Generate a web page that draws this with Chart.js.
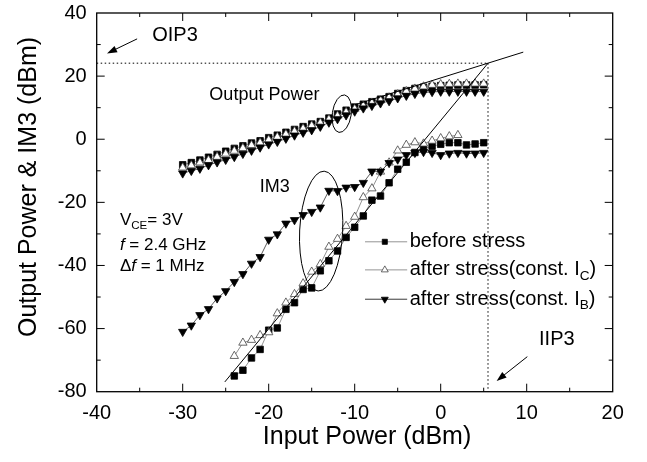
<!DOCTYPE html>
<html>
<head>
<meta charset="utf-8">
<script src="https://cdn.jsdelivr.net/npm/chart.js@4.4.0/dist/chart.umd.min.js"></script>
<style>
  html, body { margin: 0; padding: 0; background: #fff; }
  canvas { display: block; }
</style>
</head>
<body>
<canvas id="chart" width="647" height="462"></canvas>
<script>
const FONT = '"Liberation Sans", Arial, sans-serif';

// input power (dBm) for each series
const X_OUT = [-30,-29,-28,-27,-26,-25,-24,-23,-22,-21,-20,-19,-18,-17,-16,-15,-14,-13,-12,-11,-10,-9,-8,-7,-6,-5,-4,-3,-2,-1,0,1,2,3,4,5];
const X_IM3_BEFORE = [-24,-23,-22,-21,-20,-19,-18,-17,-16,-15,-14,-13,-12,-11,-10,-9,-8,-7,-6,-5,-4,-3,-2,-1,0,1,2,3,4,5];
const X_IM3_IC = [-24,-23,-22,-21,-20,-19,-18,-17,-16,-15,-14,-13,-12,-11,-10,-9,-8,-7,-6,-5,-4,-3,-2,-1,0,1,2];
const X_IM3_IB = [-30,-29,-28,-27,-26,-25,-24,-23,-22,-21,-20,-19,-18,-17,-16,-15,-14,-13,-12,-11,-10,-9,-8,-7,-6,-5,-4,-3,-2,-1,0,1,2,3,4,5];

// output power (dBm)
const OUT_BEFORE = [-8.1,-7.4,-6.6,-5.7,-4.8,-3.8,-2.9,-2.1,-1.2,-0.5,0.5,1.3,2.2,3.1,4.0,4.8,5.6,6.7,8.0,9.2,10.2,11.1,11.9,12.7,13.5,14.5,15.4,16.1,16.5,16.8,17.0,17.1,17.2,17.2,17.2,17.3];
const OUT_IC = [-9.0,-8.3,-7.4,-6.6,-5.6,-4.6,-3.7,-2.8,-1.9,-1.1,-0.2,0.7,1.6,2.5,3.4,4.3,5.2,6.3,7.4,8.6,9.6,10.6,11.5,12.3,13.2,14.2,15.2,16.0,16.7,17.2,17.4,17.5,17.6,17.6,17.6,17.6];
const OUT_IB = [-10.8,-10.0,-9.3,-8.2,-7.3,-6.5,-5.6,-4.6,-3.6,-2.6,-1.6,-0.8,0.2,1.2,2.1,2.9,4.0,5.3,6.4,7.6,8.8,9.8,10.6,11.4,12.1,13.0,13.8,14.4,14.8,15.0,15.1,15.1,15.1,15.1,15.1,15.1];

// IM3 (dBm)
const IM3_BEFORE = [-75.0,-73.2,-69.3,-66.6,-60.5,-59.8,-53.9,-51.8,-47.6,-47.1,-41.7,-38.5,-35.4,-31.1,-27.9,-24.3,-19.3,-18.0,-13.8,-9.5,-7.3,-4.2,-3.0,-2.2,-1.6,-1.1,-1.1,-1.8,-1.5,-1.1];
const IM3_IC = [-68.7,-64.5,-63.6,-62.1,-61.2,-55.2,-51.8,-49.1,-45.7,-42.0,-39.6,-34.1,-31.6,-27.5,-24.6,-18.4,-15.6,-10.3,-7.4,-3.6,-1.8,-1.0,-1.4,-0.5,0.3,0.9,1.3];
const IM3_IB = [-61.0,-59.0,-55.7,-53.8,-50.4,-48.1,-45.2,-42.7,-39.4,-37.3,-31.8,-30.1,-26.7,-25.6,-24.0,-23.0,-21.6,-16.3,-16.4,-15.3,-15.1,-13.8,-10.2,-10.2,-7.5,-6.4,-5.0,-4.3,-4.0,-4.3,-5.0,-4.5,-4.3,-4.5,-4.5,-4.3];

// extrapolation lines and the intercept point
const FIT_OUT_X = [-10, 9.6];
const FIT_OUT_Y = [10.9, 27.6];
const FIT_IM3_X = [-25.1, 5.5];
const FIT_IM3_Y = [-76.9, 24.1];
const IP3 = { iip3: 5.5, oip3: 24.1 };

// axis ticks
const X_MAJOR = [-40, -30, -20, -10, 0, 10, 20];
const X_MINOR = [-35, -25, -15, -5, 5, 15];
const Y_MAJOR = [-80, -60, -40, -20, 0, 20, 40];
const Y_MINOR = [-70, -50, -30, -10, 10, 30];

const LEGEND = [
  { label: 'before stress', sub: null, style: 'rect', fill: '#000', line: '#888' },
  { label: 'after stress(const. I', sub: 'C', style: 'triangle', fill: '#fff', line: '#888' },
  { label: 'after stress(const. I', sub: 'B', style: 'triangle', rot: 180, fill: '#000', line: '#222' },
];

const pts = (xs, ys) => xs.map((x, i) => ({ x, y: ys[i] }));

function series(xs, ys, style, fill, rot, line) {
  return {
    data: pts(xs, ys), borderColor: line, borderWidth: 0.8, tension: 0,
    pointStyle: style, pointRotation: rot || 0,
    pointRadius: style === 'rect' ? 4.6 : 4.8, pointHoverRadius: style === 'rect' ? 4.6 : 4.8,
    pointBackgroundColor: fill, pointBorderColor: fill === '#fff' ? '#444' : '#000', pointBorderWidth: 0.8,
  };
}
function plain(xs, ys, dash) {
  return { data: pts(xs, ys), borderColor: '#000', borderWidth: 1, borderDash: dash || [], pointRadius: 0, tension: 0 };
}

function px(c, x, y) { return [c.scales.x.getPixelForValue(x), c.scales.y.getPixelForValue(y)]; }

function subText(ctx, x, y, parts, size) {
  // parts: [text, kind] kind = '' | 'sub' | 'it'
  let cx = x;
  for (const [t, kind] of parts) {
    const s = kind === 'sub' ? size * 0.68 : size;
    ctx.font = `${kind === 'it' ? 'italic ' : ''}${s}px ${FONT}`;
    ctx.fillText(t, cx, kind === 'sub' ? y + size * 0.32 : y);
    cx += ctx.measureText(t).width;
  }
}

function arrow(ctx, x0, y0, x1, y1) {
  const a = Math.atan2(y1 - y0, x1 - x0), L = 10, W = 3.5;
  ctx.beginPath(); ctx.moveTo(x0, y0); ctx.lineTo(x1 - Math.cos(a) * L * 0.6, y1 - Math.sin(a) * L * 0.6); ctx.stroke();
  ctx.beginPath();
  ctx.moveTo(x1, y1);
  ctx.lineTo(x1 - Math.cos(a) * L - Math.sin(a) * W, y1 - Math.sin(a) * L + Math.cos(a) * W);
  ctx.lineTo(x1 - Math.cos(a) * L + Math.sin(a) * W, y1 - Math.sin(a) * L - Math.cos(a) * W);
  ctx.closePath(); ctx.fill();
}

const frame = {
  id: 'frame',
  afterDraw(c) {
    const { ctx, chartArea: a } = c;
    ctx.save();
    ctx.strokeStyle = '#000'; ctx.fillStyle = '#000'; ctx.lineWidth = 1.3;
    ctx.strokeRect(a.left, a.top, a.right - a.left, a.bottom - a.top);
    ctx.lineWidth = 1;
    const tick = (vals, len) => {
      for (const v of vals) {
        const x = c.scales.x.getPixelForValue(v);
        if (x > a.left + 1 && x < a.right - 1) {
          ctx.beginPath(); ctx.moveTo(x, a.bottom); ctx.lineTo(x, a.bottom - len);
          ctx.moveTo(x, a.top); ctx.lineTo(x, a.top + len); ctx.stroke();
        }
      }
    };
    const ytick = (vals, len) => {
      for (const v of vals) {
        const y = c.scales.y.getPixelForValue(v);
        if (y > a.top + 1 && y < a.bottom - 1) {
          ctx.beginPath(); ctx.moveTo(a.left, y); ctx.lineTo(a.left + len, y);
          ctx.moveTo(a.right, y); ctx.lineTo(a.right - len, y); ctx.stroke();
        }
      }
    };
    tick(X_MAJOR, 8); tick(X_MINOR, 4); ytick(Y_MAJOR, 8); ytick(Y_MINOR, 4);

    // axis titles
    ctx.font = `25px ${FONT}`; ctx.textAlign = 'center'; ctx.textBaseline = 'middle';
    ctx.fillText('Input Power (dBm)', 367, 437);
    ctx.save(); ctx.translate(29, 187); ctx.rotate(-Math.PI / 2);
    ctx.fillText('Output Power & IM3 (dBm)', 0, 0); ctx.restore();

    // labels on the plot
    ctx.font = `20px ${FONT}`;
    let p = px(c, -30.9, 33.0); ctx.fillText('OIP3', p[0], p[1]);
    p = px(c, 13.5, -63.3); ctx.fillText('IIP3', p[0], p[1]);
    ctx.font = `18px ${FONT}`;
    p = px(c, -20.5, 13.9); ctx.fillText('Output Power', p[0], p[1]);
    p = px(c, -19.3, -15.1); ctx.fillText('IM3', p[0], p[1]);

    ctx.textAlign = 'left';
    p = px(c, -37.3, -25.6); subText(ctx, p[0], p[1], [['V', ''], ['CE', 'sub'], ['= 3V', '']], 17);
    p = px(c, -37.3, -33.7); subText(ctx, p[0], p[1], [['f', 'it'], [' = 2.4 GHz', '']], 17);
    p = px(c, -37.3, -40.2); subText(ctx, p[0], p[1], [['\u0394', ''], ['f', 'it'], [' = 1 MHz', '']], 17);

    // arrows
    ctx.lineWidth = 1;
    let q0 = px(c, -35.3, 31.8), q1 = px(c, -38.8, 27.2); arrow(ctx, q0[0], q0[1], q1[0], q1[1]);
    q0 = px(c, 10.07, -68.9); q1 = px(c, 6.5, -76.6); arrow(ctx, q0[0], q0[1], q1[0], q1[1]);

    // ellipses
    const ell = (x, y, rx, ry, rot) => {
      const e = px(c, x, y);
      const w = Math.abs(c.scales.x.getPixelForValue(x + rx) - e[0]);
      const h = Math.abs(c.scales.y.getPixelForValue(y + ry) - e[1]);
      ctx.beginPath(); ctx.ellipse(e[0], e[1], w, h, rot, 0, Math.PI * 2); ctx.stroke();
    };
    ell(-11.5, 8.1, 1.1, 6.0, 0.15);
    ell(-13.9, -29.1, 2.5, 19.0, 0.05);

    // legend
    LEGEND.forEach((it, i) => {
      const ly = [-32.5, -41.4, -50.7][i];
      const a0 = px(c, -8.8, ly), a1 = px(c, -3.9, ly), m = px(c, -6.5, ly);
      ctx.strokeStyle = it.line; ctx.lineWidth = 0.9;
      ctx.beginPath(); ctx.moveTo(a0[0], a0[1]); ctx.lineTo(a1[0], a1[1]); ctx.stroke();
      ctx.fillStyle = it.fill; ctx.strokeStyle = it.fill === '#fff' ? '#444' : '#000'; ctx.lineWidth = 0.8;
      Chart.helpers.drawPoint(ctx, { pointStyle: it.style, rotation: it.rot || 0, radius: it.style === 'rect' ? 3.6 : 4, borderWidth: 0.8 }, m[0], m[1]);
      ctx.fillStyle = '#000'; ctx.textBaseline = 'middle';
      const t = px(c, -3.6, ly);
      const parts = [[it.label, '']];
      if (it.sub) { parts.push([it.sub, 'sub']); parts.push([')', '']); }
      subText(ctx, t[0], t[1], parts, 20);
    });
    ctx.restore();
  }
};

new Chart(document.getElementById('chart').getContext('2d'), {
  type: 'line',
  data: {
    datasets: [
      plain(FIT_OUT_X, FIT_OUT_Y),
      plain(FIT_IM3_X, FIT_IM3_Y),
      plain([-40, IP3.iip3], [IP3.oip3, IP3.oip3], [1.5, 2.5]),
      plain([IP3.iip3, IP3.iip3], [IP3.oip3, -80], [1.5, 2.5]),
      series(X_OUT, OUT_IB, 'triangle', '#000', 180, '#333'),
      series(X_IM3_IB, IM3_IB, 'triangle', '#000', 180, '#333'),
      series(X_OUT, OUT_IC, 'triangle', '#fff', 0, '#777'),
      series(X_IM3_IC, IM3_IC, 'triangle', '#fff', 0, '#777'),
      series(X_OUT, OUT_BEFORE, 'rect', '#000', 0, '#777'),
      series(X_IM3_BEFORE, IM3_BEFORE, 'rect', '#000', 0, '#777'),
    ],
  },
  options: {
    responsive: false, animation: false, devicePixelRatio: 1, events: [],
    layout: { padding: { top: 13, right: 34.3, left: 0, bottom: 0 } },
    plugins: { legend: { display: false }, tooltip: { enabled: false } },
    scales: {
      x: {
        type: 'linear', min: -40, max: 20,
        afterFit(s) { s.height = 70.3; s.paddingLeft = 0; s.paddingRight = 0; },
        grid: { display: false, drawTicks: false }, border: { display: false },
        ticks: { stepSize: 10, padding: 10, color: '#000', maxRotation: 0, font: { family: FONT, size: 20 } },
      },
      y: {
        type: 'linear', min: -80, max: 40,
        afterFit(s) { s.width = 96.7; s.paddingTop = 0; s.paddingBottom = 0; },
        grid: { display: false, drawTicks: false }, border: { display: false },
        ticks: { stepSize: 20, padding: 10, color: '#000', font: { family: FONT, size: 20 } },
      },
    },
  },
  plugins: [frame],
});
</script>
</body>
</html>
